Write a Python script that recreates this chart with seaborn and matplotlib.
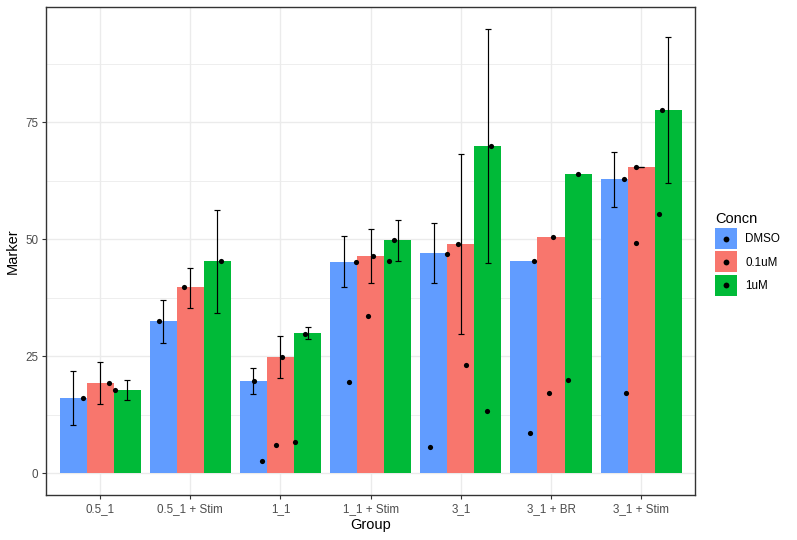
import numpy as np
import pandas as pd
import matplotlib
matplotlib.use("Agg")
import matplotlib.pyplot as plt
import seaborn as sns
from matplotlib.patches import Patch, Rectangle
from matplotlib.lines import Line2D
from matplotlib.legend_handler import HandlerBase
from matplotlib.ticker import FixedLocator

# ---------------- data ----------------
groups = ["0.5_1", "0.5_1 + Stim", "1_1", "1_1 + Stim", "3_1", "3_1 + BR", "3_1 + Stim"]
concns = ["DMSO", "0.1uM", "1uM"]
colors = ["#619CFF", "#F8766D", "#00BA38"]

bar_dmso = [16.0, 32.5, 19.7, 45.1, 47.0, 45.3, 62.8]
bar_01uM = [19.2, 39.7, 24.8, 46.4, 48.9, 50.4, 65.4]
bar_1uM = [17.7, 45.3, 29.9, 49.8, 69.9, 63.9, 77.6]

err_lo_dmso = [10.2, 27.7, 16.8, 39.7, 40.7, np.nan, 56.8]
err_hi_dmso = [21.7, 36.9, 22.4, 50.6, 53.4, np.nan, 68.7]
err_lo_01uM = [14.7, 35.3, 20.2, 40.5, 29.7, np.nan, 65.4]
err_hi_01uM = [23.65, 43.9, 29.2, 52.1, 68.1, np.nan, 65.4]
err_lo_1uM = [15.5, 34.1, 28.6, 45.2, 44.8, np.nan, 61.9]
err_hi_1uM = [19.8, 56.1, 31.3, 54.0, 94.8, np.nan, 93.1]

# individual points: group, concentration, value, horizontal jitter
pt_group = ["0.5_1", "0.5_1", "0.5_1",
            "0.5_1 + Stim", "0.5_1 + Stim", "0.5_1 + Stim",
            "1_1", "1_1", "1_1", "1_1", "1_1", "1_1",
            "1_1 + Stim", "1_1 + Stim", "1_1 + Stim", "1_1 + Stim", "1_1 + Stim", "1_1 + Stim",
            "3_1", "3_1", "3_1", "3_1", "3_1", "3_1",
            "3_1 + BR", "3_1 + BR", "3_1 + BR", "3_1 + BR", "3_1 + BR", "3_1 + BR",
            "3_1 + Stim", "3_1 + Stim", "3_1 + Stim", "3_1 + Stim", "3_1 + Stim", "3_1 + Stim"]
pt_concn = ["DMSO", "0.1uM", "1uM",
            "DMSO", "0.1uM", "1uM",
            "DMSO", "DMSO", "0.1uM", "0.1uM", "1uM", "1uM",
            "DMSO", "DMSO", "0.1uM", "0.1uM", "1uM", "1uM",
            "DMSO", "DMSO", "0.1uM", "0.1uM", "1uM", "1uM",
            "DMSO", "DMSO", "0.1uM", "0.1uM", "1uM", "1uM",
            "DMSO", "DMSO", "0.1uM", "0.1uM", "1uM", "1uM"]
pt_value = [16.0, 19.2, 17.7,
            32.5, 39.7, 45.2,
            19.6, 2.5, 24.7, 5.9, 29.8, 6.6,
            45.0, 19.4, 46.3, 33.5, 49.7, 45.2,
            46.9, 5.5, 48.9, 23.0, 69.8, 13.2,
            45.2, 8.5, 50.4, 17.0, 63.8, 19.8,
            62.8, 17.0, 65.3, 49.1, 77.5, 55.3]
pt_jitter = [0.111, 0.10, -0.134,
             -0.044, -0.067, 0.044,
             0.01, 0.10, 0.02, -0.046, -0.03, -0.135,
             0.143, 0.055, 0.029, -0.034, -0.046, -0.101,
             0.142, -0.046, -0.036, 0.053, 0.031, -0.014,
             0.109, 0.065, 0.02, -0.024, -0.003, -0.114,
             0.109, 0.131, -0.058, -0.058, -0.069, -0.102]

# ---------------- tables ----------------
bars = pd.DataFrame({
    "Group": groups * 3,
    "Concn": [c for c in concns for _ in groups],
    "Marker": bar_dmso + bar_01uM + bar_1uM,
})
errs = pd.DataFrame({
    "Group": groups * 3,
    "Concn": [c for c in concns for _ in groups],
    "lo": err_lo_dmso + err_lo_01uM + err_lo_1uM,
    "hi": err_hi_dmso + err_hi_01uM + err_hi_1uM,
})
pts = pd.DataFrame({"Group": pt_group, "Concn": pt_concn,
                    "Marker": pt_value, "jit": pt_jitter})

# ---------------- figure ----------------
plt.rcParams["font.family"] = ["Liberation Sans", "DejaVu Sans"]
fig = plt.figure(figsize=(7.97, 5.40), dpi=100)
ax = fig.add_axes([46 / 797, (540 - 495.2) / 540, (695.3 - 46) / 797, (495.2 - 7.2) / 540])

sns.barplot(data=bars, x="Group", y="Marker", hue="Concn", order=groups,
            hue_order=concns, palette=colors, width=0.9, saturation=1,
            errorbar=None, linewidth=0, legend=False, ax=ax, zorder=2)

n_h = len(concns)
bw = 0.9 / n_h
gi = {g: i for i, g in enumerate(groups)}
ci = {c: j for j, c in enumerate(concns)}

def xpos(g, c):
    return gi[g] - 0.45 + bw * (ci[c] + 0.5)

e = errs.dropna()
ex = [xpos(g, c) for g, c in zip(e["Group"], e["Concn"])]
emid = (e["lo"].values + e["hi"].values) / 2
ax.errorbar(ex, emid, yerr=[emid - e["lo"].values, e["hi"].values - emid],
            fmt="none", ecolor="black", elinewidth=0.85, capsize=2.3,
            capthick=0.85, zorder=3)

px = [xpos(g, c) + j for g, c, j in zip(pts["Group"], pts["Concn"], pts["jit"])]
ax.scatter(px, pts["Marker"], s=14, color="black", linewidths=0, zorder=4)

# scales
ymax = np.nanmax(errs["hi"].values)
pad = 0.05 * ymax
ax.set_ylim(-pad, ymax + pad)
ax.set_xlim(-0.6, len(groups) - 0.4)
ax.set_yticks([0, 25, 50, 75])
ax.yaxis.set_minor_locator(FixedLocator([12.5, 37.5, 62.5, 87.5]))
ax.set_xticks(range(len(groups)))
ax.set_xticklabels(groups)

# theme_bw look
ax.set_facecolor("white")
ax.set_axisbelow(True)
ax.grid(True, which="major", color="#EBEBEB", linewidth=1.0, zorder=0)
ax.grid(True, which="minor", axis="y", color="#EBEBEB", linewidth=0.6, zorder=0)
for s in ax.spines.values():
    s.set_color("#333333")
    s.set_linewidth(1.0)
    s.set_zorder(5)
ax.tick_params(axis="both", which="major", color="#333333", length=3.2, width=0.8,
               labelsize=8.4, labelcolor="#4D4D4D", pad=2.5)
ax.tick_params(axis="y", which="minor", length=0)
ax.set_xlabel("Group", fontsize=10.5, color="black", labelpad=2)
ax.set_ylabel("Marker", fontsize=10.5, color="black", labelpad=4)


# legend: filled key with a centred dot (ggplot style)
class KeyHandler(HandlerBase):
    def create_artists(self, legend, orig_handle, xdescent, ydescent,
                       width, height, fontsize, trans):
        r = Rectangle((-xdescent, -ydescent), width, height,
                      facecolor=orig_handle.get_facecolor(), edgecolor="none",
                      transform=trans)
        m = Line2D([-xdescent + width / 2], [-ydescent + height / 2],
                   marker="o", color="black", linestyle="none",
                   markersize=4.2, markeredgewidth=0, transform=trans)
        return [r, m]


handles = [Patch(facecolor=col, edgecolor="none") for col in colors]
leg = fig.legend(handles, concns, title="Concn", loc="upper left",
                 bbox_to_anchor=(713 / 797, 1 - 209.5 / 540), frameon=False,
                 fontsize=8.4, title_fontsize=10.5, handlelength=1.85,
                 handleheight=2.39, labelspacing=0.2, handletextpad=0.7,
                 borderaxespad=0, borderpad=0.2,
                 handler_map={Patch: KeyHandler()})
leg._legend_box.align = "left"

fig.savefig("out.png", dpi=100)
